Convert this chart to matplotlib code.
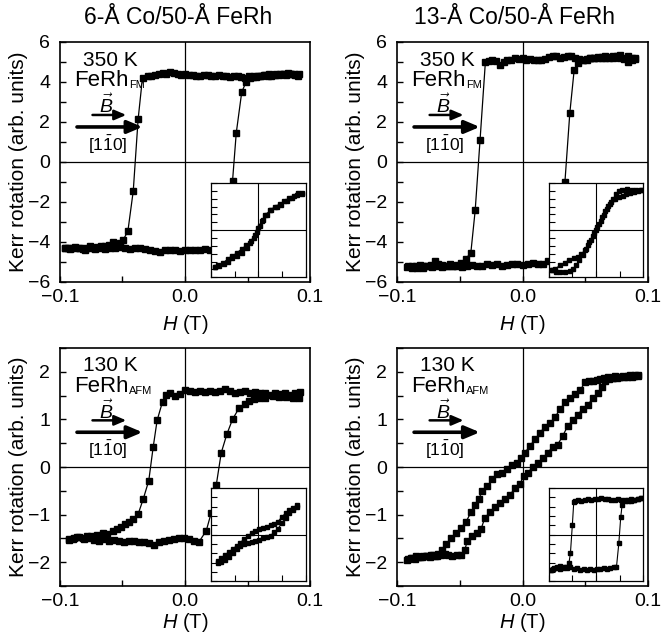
import matplotlib
matplotlib.use('Agg')
import matplotlib.pyplot as plt
from matplotlib.ticker import MultipleLocator, NullFormatter

plt.rcParams['font.family'] = ['Liberation Sans', 'DejaVu Sans']
plt.rcParams['mathtext.fontset'] = 'custom'
plt.rcParams['mathtext.rm'] = 'Liberation Sans'
plt.rcParams['mathtext.it'] = 'Liberation Sans:italic'
plt.rcParams['mathtext.bf'] = 'Liberation Sans:bold'

# ---------------- data ----------------
titles = ['6-Å Co/50-Å FeRh', '13-Å Co/50-Å FeRh']

# top left: 6 A Co, 350 K
H_tl_dn = [0.090, 0.087, 0.084, 0.081, 0.078, 0.075, 0.072, 0.069, 0.066, 0.063,
           0.060, 0.057, 0.054, 0.051, 0.048, 0.045, 0.042, 0.039, 0.036, 0.033,
           0.030, 0.027, 0.024, 0.021, 0.018, 0.015, 0.012, 0.009, 0.006, 0.003,
           0.000, -0.003, -0.006, -0.009, -0.012, -0.015, -0.018, -0.021, -0.024, -0.027,
           -0.030, -0.034, -0.0375, -0.0414, -0.0457, -0.0494,
           -0.052, -0.055, -0.058, -0.061, -0.064, -0.067, -0.070, -0.073, -0.076, -0.079,
           -0.082, -0.085, -0.088, -0.091, -0.094, -0.096]
M_tl_dn = [4.30, 4.38, 4.42, 4.35, 4.40, 4.33, 4.36, 4.30, 4.28, 4.33,
           4.30, 4.27, 4.25, 4.28, 4.22, 4.25, 4.28, 4.30, 4.27, 4.32,
           4.30, 4.35, 4.32, 4.30, 4.33, 4.35, 4.30, 4.32, 4.35, 4.33,
           4.38, 4.35, 4.40, 4.45, 4.48, 4.42, 4.45, 4.38, 4.35, 4.30,
           4.28, 4.22, 2.14, -1.45, -3.46, -3.89,
           -4.05, -4.10, -4.00, -4.15, -4.22, -4.18, -4.25, -4.30, -4.22, -4.28,
           -4.35, -4.30, -4.25, -4.32, -4.28, -4.30]
H_tl_up = [-0.096, -0.092, -0.088, -0.084, -0.080, -0.076, -0.072, -0.068, -0.064, -0.060,
           -0.056, -0.052, -0.048, -0.044, -0.040, -0.036, -0.032, -0.028, -0.024, -0.020,
           -0.016, -0.012, -0.008, -0.004, 0.000, 0.004, 0.008, 0.012, 0.016, 0.020,
           0.024, 0.028, 0.032, 0.038, 0.041, 0.0454, 0.0489,
           0.052, 0.055, 0.058, 0.061, 0.064, 0.067, 0.070, 0.073, 0.076, 0.079,
           0.082, 0.085, 0.088, 0.091]
M_tl_up = [-4.30, -4.35, -4.28, -4.32, -4.38, -4.30, -4.35, -4.28, -4.33, -4.30,
           -4.28, -4.25, -4.30, -4.35, -4.30, -4.32, -4.35, -4.40, -4.45, -4.50,
           -4.42, -4.38, -4.40, -4.45, -4.42, -4.40, -4.38, -4.42, -4.35, -4.40,
           -4.38, -4.35, -4.30, -0.97, 1.45, 3.50, 4.00,
           4.20, 4.28, 4.32, 4.30, 4.35, 4.38, 4.33, 4.40, 4.42, 4.38,
           4.45, 4.40, 4.35, 4.38]

# top right: 13 A Co, 350 K
H_tr_dn = [0.090, 0.087, 0.084, 0.081, 0.078, 0.075, 0.072, 0.069, 0.066, 0.063,
           0.060, 0.057, 0.054, 0.051, 0.048, 0.045, 0.042, 0.039, 0.036, 0.033,
           0.030, 0.027, 0.024, 0.021, 0.018, 0.015, 0.012, 0.009, 0.006, 0.003,
           0.000, -0.003, -0.006, -0.009, -0.012, -0.015, -0.018, -0.021, -0.024, -0.027,
           -0.0296, -0.0338, -0.0377, -0.0412, -0.0454,
           -0.049, -0.052, -0.055, -0.058, -0.061, -0.064, -0.067, -0.070, -0.073, -0.076,
           -0.079, -0.082, -0.085, -0.088, -0.091]
M_tr_dn = [5.20, 5.10, 5.00, 5.15, 5.35, 5.30, 5.20, 5.25, 5.22, 5.25,
           5.20, 5.18, 5.20, 5.12, 5.10, 5.15, 5.20, 5.28, 5.30, 5.25,
           5.22, 5.28, 5.30, 5.25, 5.15, 5.10, 5.12, 5.10, 5.15, 5.12,
           5.18, 5.15, 5.20, 5.12, 5.10, 5.00, 4.85, 5.05, 5.10, 5.05,
           4.98, 1.12, -2.42, -4.56, -4.84,
           -5.05, -5.15, -5.20, -5.12, -5.18, -5.25, -5.10, -4.95, -5.15, -5.20,
           -5.28, -5.15, -5.22, -5.30, -5.20]
H_tr_up = [-0.092, -0.088, -0.084, -0.080, -0.076, -0.072, -0.068, -0.064, -0.060, -0.056,
           -0.052, -0.048, -0.044, -0.040, -0.036, -0.032, -0.028, -0.024, -0.020, -0.016,
           -0.012, -0.008, -0.004, 0.000, 0.004, 0.008, 0.012, 0.016, 0.020, 0.024,
           0.028, 0.031, 0.0338, 0.0377, 0.0412, 0.0443,
           0.048, 0.051, 0.054, 0.057, 0.060, 0.063, 0.066, 0.069, 0.072, 0.075,
           0.078, 0.081, 0.084, 0.087, 0.090]
M_tr_up = [-5.25, -5.20, -5.30, -5.22, -5.18, -5.25, -5.20, -5.15, -5.22, -5.20,
           -5.18, -5.25, -5.20, -5.15, -5.20, -5.18, -5.10, -5.15, -5.12, -5.18,
           -5.15, -5.10, -5.12, -5.15, -5.10, -5.05, -5.12, -5.08, -4.95, -5.05,
           -5.10, -5.05, -1.00, 2.45, 4.62, 4.96,
           5.10, 5.15, 5.20, 5.18, 5.25, 5.20, 5.28, 5.22, 5.30, 5.25,
           5.18, 5.22, 5.28, 5.20, 5.15]

# bottom left: 6 A Co, 130 K
H_bl_dn = [0.092, 0.088, 0.084, 0.080, 0.076, 0.072, 0.068, 0.064, 0.060, 0.056,
           0.052, 0.048, 0.044, 0.040, 0.036, 0.032, 0.028, 0.024, 0.020, 0.016,
           0.012, 0.008, 0.004, 0.000, -0.004, -0.008, -0.012, -0.015,
           -0.018, -0.0223, -0.0255, -0.029, -0.0335, -0.0375, -0.0414, -0.045, -0.048, -0.051,
           -0.0547, -0.058, -0.0627, -0.066, -0.0707, -0.075, -0.0786, -0.082, -0.0866, -0.090,
           -0.093]
M_bl_dn = [1.58, 1.55, 1.52, 1.56, 1.54, 1.56, 1.52, 1.55, 1.56, 1.58,
           1.55, 1.60, 1.58, 1.56, 1.60, 1.63, 1.60, 1.58, 1.60, 1.57,
           1.60, 1.58, 1.60, 1.62, 1.53, 1.50, 1.56, 1.52,
           1.37, 0.98, 0.41, -0.29, -0.68, -0.99, -1.10, -1.16, -1.19, -1.25,
           -1.31, -1.35, -1.40, -1.38, -1.42, -1.45, -1.45, -1.50, -1.48, -1.52,
           -1.54]
H_bl_up = [-0.093, -0.089, -0.085, -0.081, -0.077, -0.073, -0.069, -0.065, -0.061, -0.057,
           -0.053, -0.049, -0.045, -0.041, -0.037, -0.033, -0.029, -0.025, -0.021, -0.017,
           -0.013, -0.009, -0.005, -0.001, 0.003, 0.007, 0.011,
           0.017, 0.021, 0.025, 0.029, 0.0335, 0.038, 0.0435, 0.048, 0.0515, 0.055,
           0.0595, 0.064, 0.070, 0.075, 0.081, 0.086, 0.091]
M_bl_up = [-1.52, -1.50, -1.48, -1.52, -1.50, -1.53, -1.55, -1.52, -1.55, -1.53,
           -1.55, -1.57, -1.55, -1.55, -1.58, -1.57, -1.60, -1.63, -1.58, -1.55,
           -1.53, -1.52, -1.50, -1.50, -1.52, -1.55, -1.58,
           -1.34, -0.96, -0.38, 0.30, 0.69, 1.00, 1.25, 1.33, 1.39, 1.42,
           1.44, 1.46, 1.49, 1.47, 1.47, 1.45, 1.46]

# bottom right: 13 A Co, 130 K
H_br_dn = [0.092, 0.089, 0.086, 0.083, 0.080, 0.077, 0.074, 0.071, 0.068, 0.065,
           0.062, 0.059, 0.056, 0.053, 0.050,
           0.046, 0.042, 0.038, 0.034, 0.030, 0.026, 0.022, 0.018, 0.014, 0.010,
           0.006, 0.002, -0.001, -0.004, -0.008, -0.012, -0.016, -0.020, -0.024, -0.028,
           -0.032, -0.035, -0.038, -0.041, -0.045, -0.049, -0.053, -0.057, -0.061, -0.064,
           -0.067, -0.070, -0.073, -0.076, -0.079, -0.082, -0.085, -0.088, -0.091]
M_br_dn = [1.93, 1.92, 1.94, 1.90, 1.92, 1.90, 1.91, 1.88, 1.90, 1.87,
           1.85, 1.82, 1.80, 1.80, 1.78,
           1.62, 1.53, 1.45, 1.36, 1.22, 1.05, 0.92, 0.85, 0.72, 0.58,
           0.45, 0.30, 0.18, 0.08, 0.04, -0.05, -0.12, -0.15, -0.25, -0.40,
           -0.50, -0.68, -0.80, -0.95, -1.15, -1.28, -1.38, -1.50, -1.62, -1.75,
           -1.82, -1.86, -1.85, -1.88, -1.86, -1.90, -1.88, -1.92, -1.93]
H_br_up = [-0.092, -0.089, -0.086, -0.083, -0.080, -0.077, -0.074, -0.071, -0.068, -0.065,
           -0.062, -0.059, -0.056, -0.052, -0.049,
           -0.046, -0.044, -0.040, -0.036, -0.033, -0.030, -0.026, -0.022, -0.018, -0.014,
           -0.010, -0.006, -0.002, 0.001, 0.004, 0.008, 0.012, 0.016, 0.020, 0.024,
           0.028, 0.032, 0.036, 0.040, 0.044, 0.048, 0.052, 0.056, 0.060, 0.063,
           0.066, 0.069, 0.072, 0.075, 0.078, 0.081, 0.084, 0.087, 0.090, 0.092]
M_br_up = [-1.95, -1.92, -1.93, -1.90, -1.90, -1.88, -1.90, -1.85, -1.88, -1.85,
           -1.83, -1.85, -1.88, -1.85, -1.85,
           -1.74, -1.56, -1.45, -1.38, -1.30, -1.07, -0.95, -0.85, -0.75, -0.68,
           -0.58, -0.45, -0.35, -0.19, -0.12, -0.01, 0.08, 0.18, 0.30, 0.42,
           0.47, 0.65, 0.86, 0.98, 1.10, 1.22, 1.30, 1.45, 1.55, 1.68,
           1.80, 1.85, 1.88, 1.86, 1.90, 1.90, 1.92, 1.90, 1.93, 1.92]

# insets (normalized units)
x_in_tl_up = [-0.91, -0.84, -0.73, -0.63, -0.56, -0.45, -0.35, -0.24, -0.17, -0.10, -0.03,
              0.04, 0.11, 0.18, 0.28, 0.39, 0.49, 0.60, 0.71, 0.81, 0.92]
y_in_tl_up = [-0.79, -0.76, -0.72, -0.67, -0.60, -0.55, -0.48, -0.38, -0.28, -0.17, -0.03,
              0.08, 0.22, 0.33, 0.43, 0.50, 0.54, 0.62, 0.68, 0.74, 0.77]
x_in_tl_dn = [0.92, 0.85, 0.75, 0.65, 0.55, 0.45, 0.35, 0.25, 0.15, 0.07, 0.00,
              -0.07, -0.15, -0.25, -0.35, -0.45, -0.55, -0.65, -0.75, -0.85, -0.91]
y_in_tl_dn = [0.80, 0.78, 0.72, 0.68, 0.62, 0.55, 0.50, 0.42, 0.32, 0.20, 0.05,
              -0.10, -0.22, -0.32, -0.40, -0.48, -0.55, -0.62, -0.70, -0.75, -0.79]

x_in_tr_dn = [0.95, 0.85, 0.75, 0.65, 0.55, 0.48, 0.42, 0.36, 0.30, 0.24, 0.17, 0.10, 0.03,
              -0.04, -0.10, -0.17, -0.24, -0.31, -0.38, -0.46, -0.56, -0.66, -0.76, -0.86, -0.93]
y_in_tr_dn = [0.85, 0.86, 0.85, 0.87, 0.86, 0.84, 0.76, 0.66, 0.55, 0.45, 0.32, 0.20, 0.07,
              -0.07, -0.20, -0.32, -0.43, -0.51, -0.57, -0.60, -0.63, -0.69, -0.75, -0.82, -0.85]
x_in_tr_up = [-0.93, -0.85, -0.75, -0.65, -0.55, -0.48, -0.42, -0.35, -0.28, -0.21, -0.14, -0.07, 0.00,
              0.06, 0.12, 0.18, 0.25, 0.32, 0.40, 0.48, 0.56, 0.64, 0.72, 0.80, 0.88, 0.95]
y_in_tr_up = [-0.85, -0.88, -0.89, -0.88, -0.86, -0.82, -0.74, -0.64, -0.53, -0.40, -0.26, -0.13, 0.00,
              0.13, 0.27, 0.40, 0.51, 0.60, 0.66, 0.70, 0.73, 0.77, 0.80, 0.82, 0.84, 0.85]

x_in_bl_dn = [0.82, 0.74, 0.66, 0.58, 0.50, 0.42, 0.34, 0.26, 0.18, 0.10, 0.02,
              -0.06, -0.14, -0.22, -0.30, -0.38, -0.46, -0.54, -0.62, -0.70, -0.78, -0.86]
y_in_bl_dn = [0.63, 0.58, 0.53, 0.46, 0.38, 0.28, 0.23, 0.20, 0.17, 0.15, 0.12,
              0.08, 0.03, -0.03, -0.10, -0.17, -0.24, -0.31, -0.37, -0.43, -0.50, -0.57]
x_in_bl_up = [-0.86, -0.78, -0.70, -0.62, -0.54, -0.46, -0.38, -0.30, -0.22, -0.14, -0.06,
              0.02, 0.10, 0.18, 0.26, 0.34, 0.42, 0.50, 0.58, 0.66, 0.74, 0.82]
y_in_bl_up = [-0.61, -0.58, -0.54, -0.48, -0.40, -0.31, -0.24, -0.20, -0.17, -0.15, -0.13,
              -0.11, -0.08, -0.05, -0.02, 0.05, 0.13, 0.25, 0.36, 0.46, 0.53, 0.59]

x_in_br_dn = [0.95, 0.88, 0.81, 0.74, 0.67, 0.60, 0.53, 0.46, 0.39, 0.32,
              0.25, 0.18, 0.11, 0.04, -0.03, -0.10, -0.17, -0.24, -0.31, -0.38,
              -0.44, -0.47, -0.50, -0.54, -0.57, -0.63, -0.70, -0.77, -0.84, -0.91, -0.96]
y_in_br_dn = [0.78, 0.76, 0.74, 0.76, 0.73, 0.75, 0.74, 0.76, 0.74, 0.75,
              0.77, 0.76, 0.78, 0.77, 0.76, 0.75, 0.76, 0.74, 0.73, 0.75,
              0.73, 0.69, 0.20, -0.40, -0.60, -0.70, -0.72, -0.68, -0.72, -0.74, -0.75]
x_in_br_up = [-0.96, -0.89, -0.82, -0.75, -0.68, -0.61, -0.54, -0.47, -0.40, -0.33,
              -0.26, -0.19, -0.12, -0.05, 0.02, 0.09, 0.16, 0.23, 0.30, 0.37,
              0.43, 0.48, 0.52, 0.55, 0.60, 0.67, 0.74, 0.81, 0.88, 0.95]
y_in_br_up = [-0.75, -0.72, -0.70, -0.73, -0.70, -0.72, -0.70, -0.74, -0.72, -0.75,
              -0.73, -0.76, -0.74, -0.75, -0.73, -0.74, -0.72, -0.73, -0.71, -0.70,
              -0.70, -0.19, 0.37, 0.64, 0.71, 0.74, 0.72, 0.75, 0.76, 0.78]

FS = 14

fig = plt.figure(figsize=(6.62, 6.37), dpi=100)

W, Hh = 662.0, 637.0
def box(x0, y0, x1, y1):
    # Pixelrahmen -> Figurkoordinaten
    return [x0 / W, 1 - y1 / Hh, (x1 - x0) / W, (y1 - y0) / Hh]


def panel(rect, loops, inset, ylim, ymaj, ymin, temp, phase, ytick_step, xlabelpad):
    ax = fig.add_axes(rect)
    ax.axhline(0, color='k', lw=0.9, zorder=1)
    ax.axvline(0, color='k', lw=0.9, zorder=1)
    for h, m in loops:
        ax.plot(h, m, '-s', color='k', ms=5.0, lw=0.9, mec='k', mfc='k', zorder=3)
    ax.set_xlim(-0.1, 0.1)
    ax.set_ylim(*ylim)
    ax.xaxis.set_major_locator(MultipleLocator(0.1))
    ax.xaxis.set_minor_locator(MultipleLocator(0.05))
    ax.yaxis.set_major_locator(MultipleLocator(ymaj))
    ax.yaxis.set_minor_locator(MultipleLocator(ymin))
    ax.xaxis.set_major_formatter(plt.FuncFormatter(lambda v, p: ('%.1f' % v).replace('-', '\u2212')))
    ax.yaxis.set_major_formatter(plt.FuncFormatter(lambda v, p: ('%d' % round(v)).replace('-', '\u2212')))
    ax.tick_params(which='both', direction='in', top=False, right=False, length=4.5, width=1.0,
                   labelsize=FS)
    ax.tick_params(axis='y', pad=7)
    ax.tick_params(axis='x', pad=5)
    for s in ax.spines.values():
        s.set_linewidth(1.2)
    ax.set_ylabel('Kerr rotation (arb. units)', fontsize=15)
    ax.yaxis.set_label_coords(-0.128, 0.5)
    ax.set_xlabel('$H$ (T)', fontsize=14.5, labelpad=xlabelpad)

    # Beschriftungen im Diagramm
    ax.text(0.2, 0.925, temp, transform=ax.transAxes, ha='center', va='center', fontsize=15)
    t = ax.text(0.055, 0.84, 'FeRh', transform=ax.transAxes, ha='left', va='center', fontsize=16)
    ax.annotate(phase, xy=(1.0, 0.0), xycoords=t, xytext=(0.5, 0.5), textcoords='offset points',
                ha='left', va='bottom', fontsize=8)
    ax.annotate('', xy=(0.265, 0.696), xytext=(0.13, 0.696), xycoords='axes fraction',
                arrowprops=dict(arrowstyle='-|>,head_length=0.7,head_width=0.3', lw=1.8, color='k',
                                shrinkA=0, shrinkB=0))
    ax.annotate('', xy=(0.33, 0.646), xytext=(0.068, 0.646), xycoords='axes fraction',
                arrowprops=dict(arrowstyle='-|>,head_length=0.9,head_width=0.38', lw=2.6, color='k',
                                shrinkA=0, shrinkB=0))
    ax.text(0.185, 0.735, '$\\vec{B}$', transform=ax.transAxes, ha='center', va='center', fontsize=14)
    ax.text(0.19, 0.572, '$[1\\bar{1}0]$', transform=ax.transAxes, ha='center', va='center', fontsize=12.5)

    # Einschub
    ins = ax.inset_axes([0.604, 0.02, 0.378, 0.392])
    ins.set_facecolor('white')
    ins.axhline(0, color='k', lw=0.8)
    ins.axvline(0, color='k', lw=0.8)
    for x, y in inset:
        ins.plot(x, y, '-s', color='k', ms=3.0, lw=0.8)
    ins.set_xlim(-1, 1)
    ins.set_ylim(-1, 1)
    ins.xaxis.set_major_locator(MultipleLocator(0.5))
    ins.yaxis.set_major_locator(MultipleLocator(ytick_step))
    ins.xaxis.set_major_formatter(NullFormatter())
    ins.yaxis.set_major_formatter(NullFormatter())
    ins.tick_params(direction='in', top=False, right=False, length=4, width=0.8)
    for s in ins.spines.values():
        s.set_linewidth(0.9)
    return ax


panel(box(60, 42, 310, 282), [(H_tl_dn, M_tl_dn), (H_tl_up, M_tl_up)],
      [(x_in_tl_up, y_in_tl_up), (x_in_tl_dn, y_in_tl_dn)],
      (-6, 6), 2, 1, '350 K', 'FM', 1 / 6, 5)
panel(box(397, 42, 648, 282), [(H_tr_dn, M_tr_dn), (H_tr_up, M_tr_up)],
      [(x_in_tr_up, y_in_tr_up), (x_in_tr_dn, y_in_tr_dn)],
      (-6, 6), 2, 1, '350 K', 'FM', 1 / 6, 5)
panel(box(60, 348, 310, 586), [(H_bl_dn, M_bl_dn), (H_bl_up, M_bl_up)],
      [(x_in_bl_up, y_in_bl_up), (x_in_bl_dn, y_in_bl_dn)],
      (-2.5, 2.5), 1, 0.5, '130 K', 'AFM', 0.2, 1)
panel(box(397, 348, 648, 586), [(H_br_dn, M_br_dn), (H_br_up, M_br_up)],
      [(x_in_br_up, y_in_br_up), (x_in_br_dn, y_in_br_dn)],
      (-2.5, 2.5), 1, 0.5, '130 K', 'AFM', 0.2, 1)

fig.text(178 / W, 1 - 18 / Hh, titles[0], ha='center', va='center', fontsize=16.5)
fig.text(514 / W, 1 - 18 / Hh, titles[1], ha='center', va='center', fontsize=16.5)

fig.savefig('out.png', dpi=100)
